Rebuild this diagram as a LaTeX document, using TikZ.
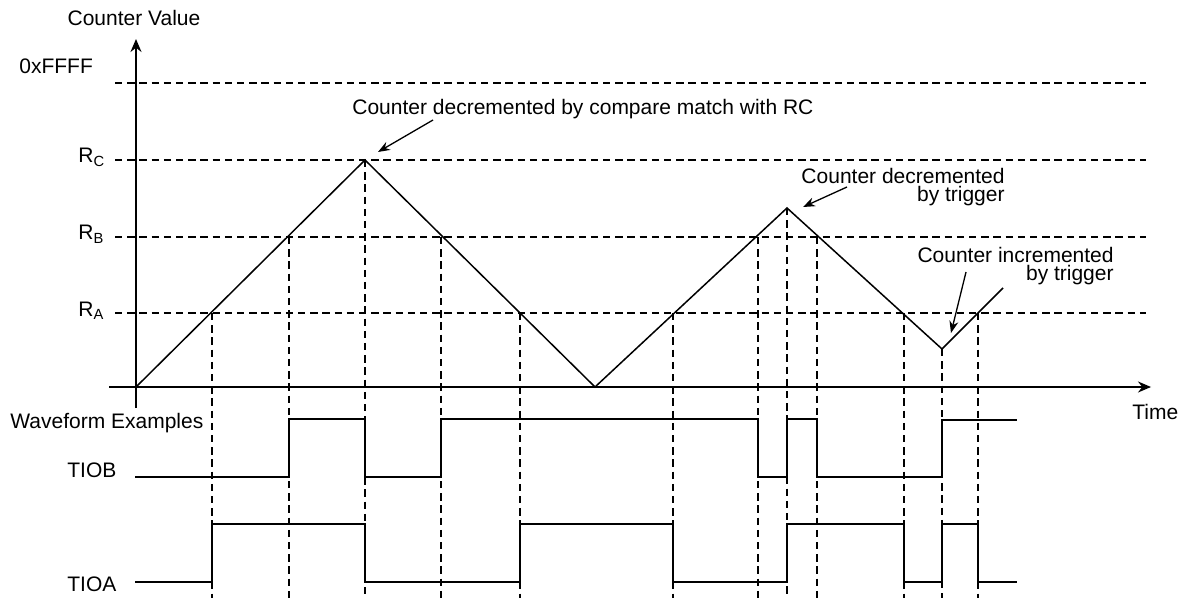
\documentclass[tikz,border=0pt]{standalone}
\usepackage{fontspec}
\setmainfont{Liberation Sans}
\usetikzlibrary{arrows.meta}

\begin{document}
\begin{tikzpicture}[
    x=0.5pt, y=-0.5pt,
    lbl/.style={font=\fontsize{10.5}{12}\selectfont, inner sep=0pt},
    note/.style={lbl, align=right, font=\fontsize{10.5}{7.6}\selectfont},
    guide/.style={dash pattern=on 3.7pt off 2.4pt, line width=0.6pt},
    sig/.style={line width=0.75pt},
    axis/.style={-{Stealth[length=6.5pt,width=5.5pt]}, line width=0.75pt},
    arr/.style={-{Stealth[length=6pt,width=4.5pt]}, line width=0.65pt}
]
\useasboundingbox (0,0) rectangle (1187,598);

% axes
\coordinate (ybot) at (136,408);
\coordinate (ytop) at (136,39);
\coordinate (xleft) at (109,387);
\coordinate (xright) at (1151,387);
\draw[axis] (ybot) -- (ytop);
\draw[axis] (xleft) -- (xright);
\node[lbl, anchor=base] (cval) at (134,26) {Counter Value};
\node[lbl, anchor=base west] (time) at (1132,419) {Time};

% levels
\foreach \y in {83, 160, 237, 313}
    \draw[guide] (115,\y) -- (1146,\y);
\node[lbl, anchor=base west] (ffff) at (19,74) {0xFFFF};
\node[lbl, anchor=base west] (rc) at (78,163) {R\textsubscript{C}};
\node[lbl, anchor=base west] (rb) at (78,240) {R\textsubscript{B}};
\node[lbl, anchor=base west] (ra) at (78,316) {R\textsubscript{A}};

% counter
\coordinate (p0) at (136,387);
\coordinate (pk1) at (365,160);
\coordinate (v1) at (595,387);
\coordinate (pk2) at (787,208);
\coordinate (v2) at (942,349);
\coordinate (pend) at (1003,288);
\draw[sig] (p0) -- (pk1) -- (v1) -- (pk2) -- (v2) -- (pend);

% compare events
\foreach \x/\y in {212/313, 289/237, 365/160, 441/237, 520/313, 673/313,
                   758/237, 787/208, 817/237, 904/313, 942/349, 978/313}
    \draw[guide] (\x,\y) -- (\x,598);

% waveforms
\node[lbl, anchor=base west] (wave) at (10,428) {Waveform Examples};
\node[lbl, anchor=base west] (tiob) at (67,477) {TIOB};
\node[lbl, anchor=base west] (tioa) at (67,591) {TIOA};
\draw[sig] (135,477) -- (289,477) -- (289,419) -- (365,419) -- (365,477)
    -- (441,477) -- (441,419) -- (758,419) -- (758,477) -- (787,477)
    -- (787,419) -- (817,419) -- (817,477) -- (942,477) -- (942,420) -- (1017,420);
\draw[sig] (135,582) -- (212,582) -- (212,524) -- (365,524) -- (365,582)
    -- (520,582) -- (520,524) -- (673,524) -- (673,582) -- (787,582)
    -- (787,524) -- (904,524) -- (904,582) -- (942,582) -- (942,524)
    -- (978,524) -- (978,582) -- (1017,582);

% notes
\node[lbl, anchor=base west] (n1) at (352,115) {Counter decremented by compare match with RC};
\node[note, anchor=north east] (n2) at (1005,168) {Counter decremented\hspace{3pt}\\by trigger};
\node[note, anchor=north east] (n3) at (1114,247) {Counter incremented\hspace{3.5pt}\\by trigger};
\coordinate (t1) at (433,120);
\coordinate (t2) at (847,187);
\coordinate (t3) at (966,272);
\draw[arr] (t1) -- ([shift={(13,-8)}]pk1);
\draw[arr] (t2) -- ([shift={(16,-1)}]pk2);
\draw[arr] (t3) -- ([shift={(9,-16)}]v2);
\end{tikzpicture}
\end{document}
